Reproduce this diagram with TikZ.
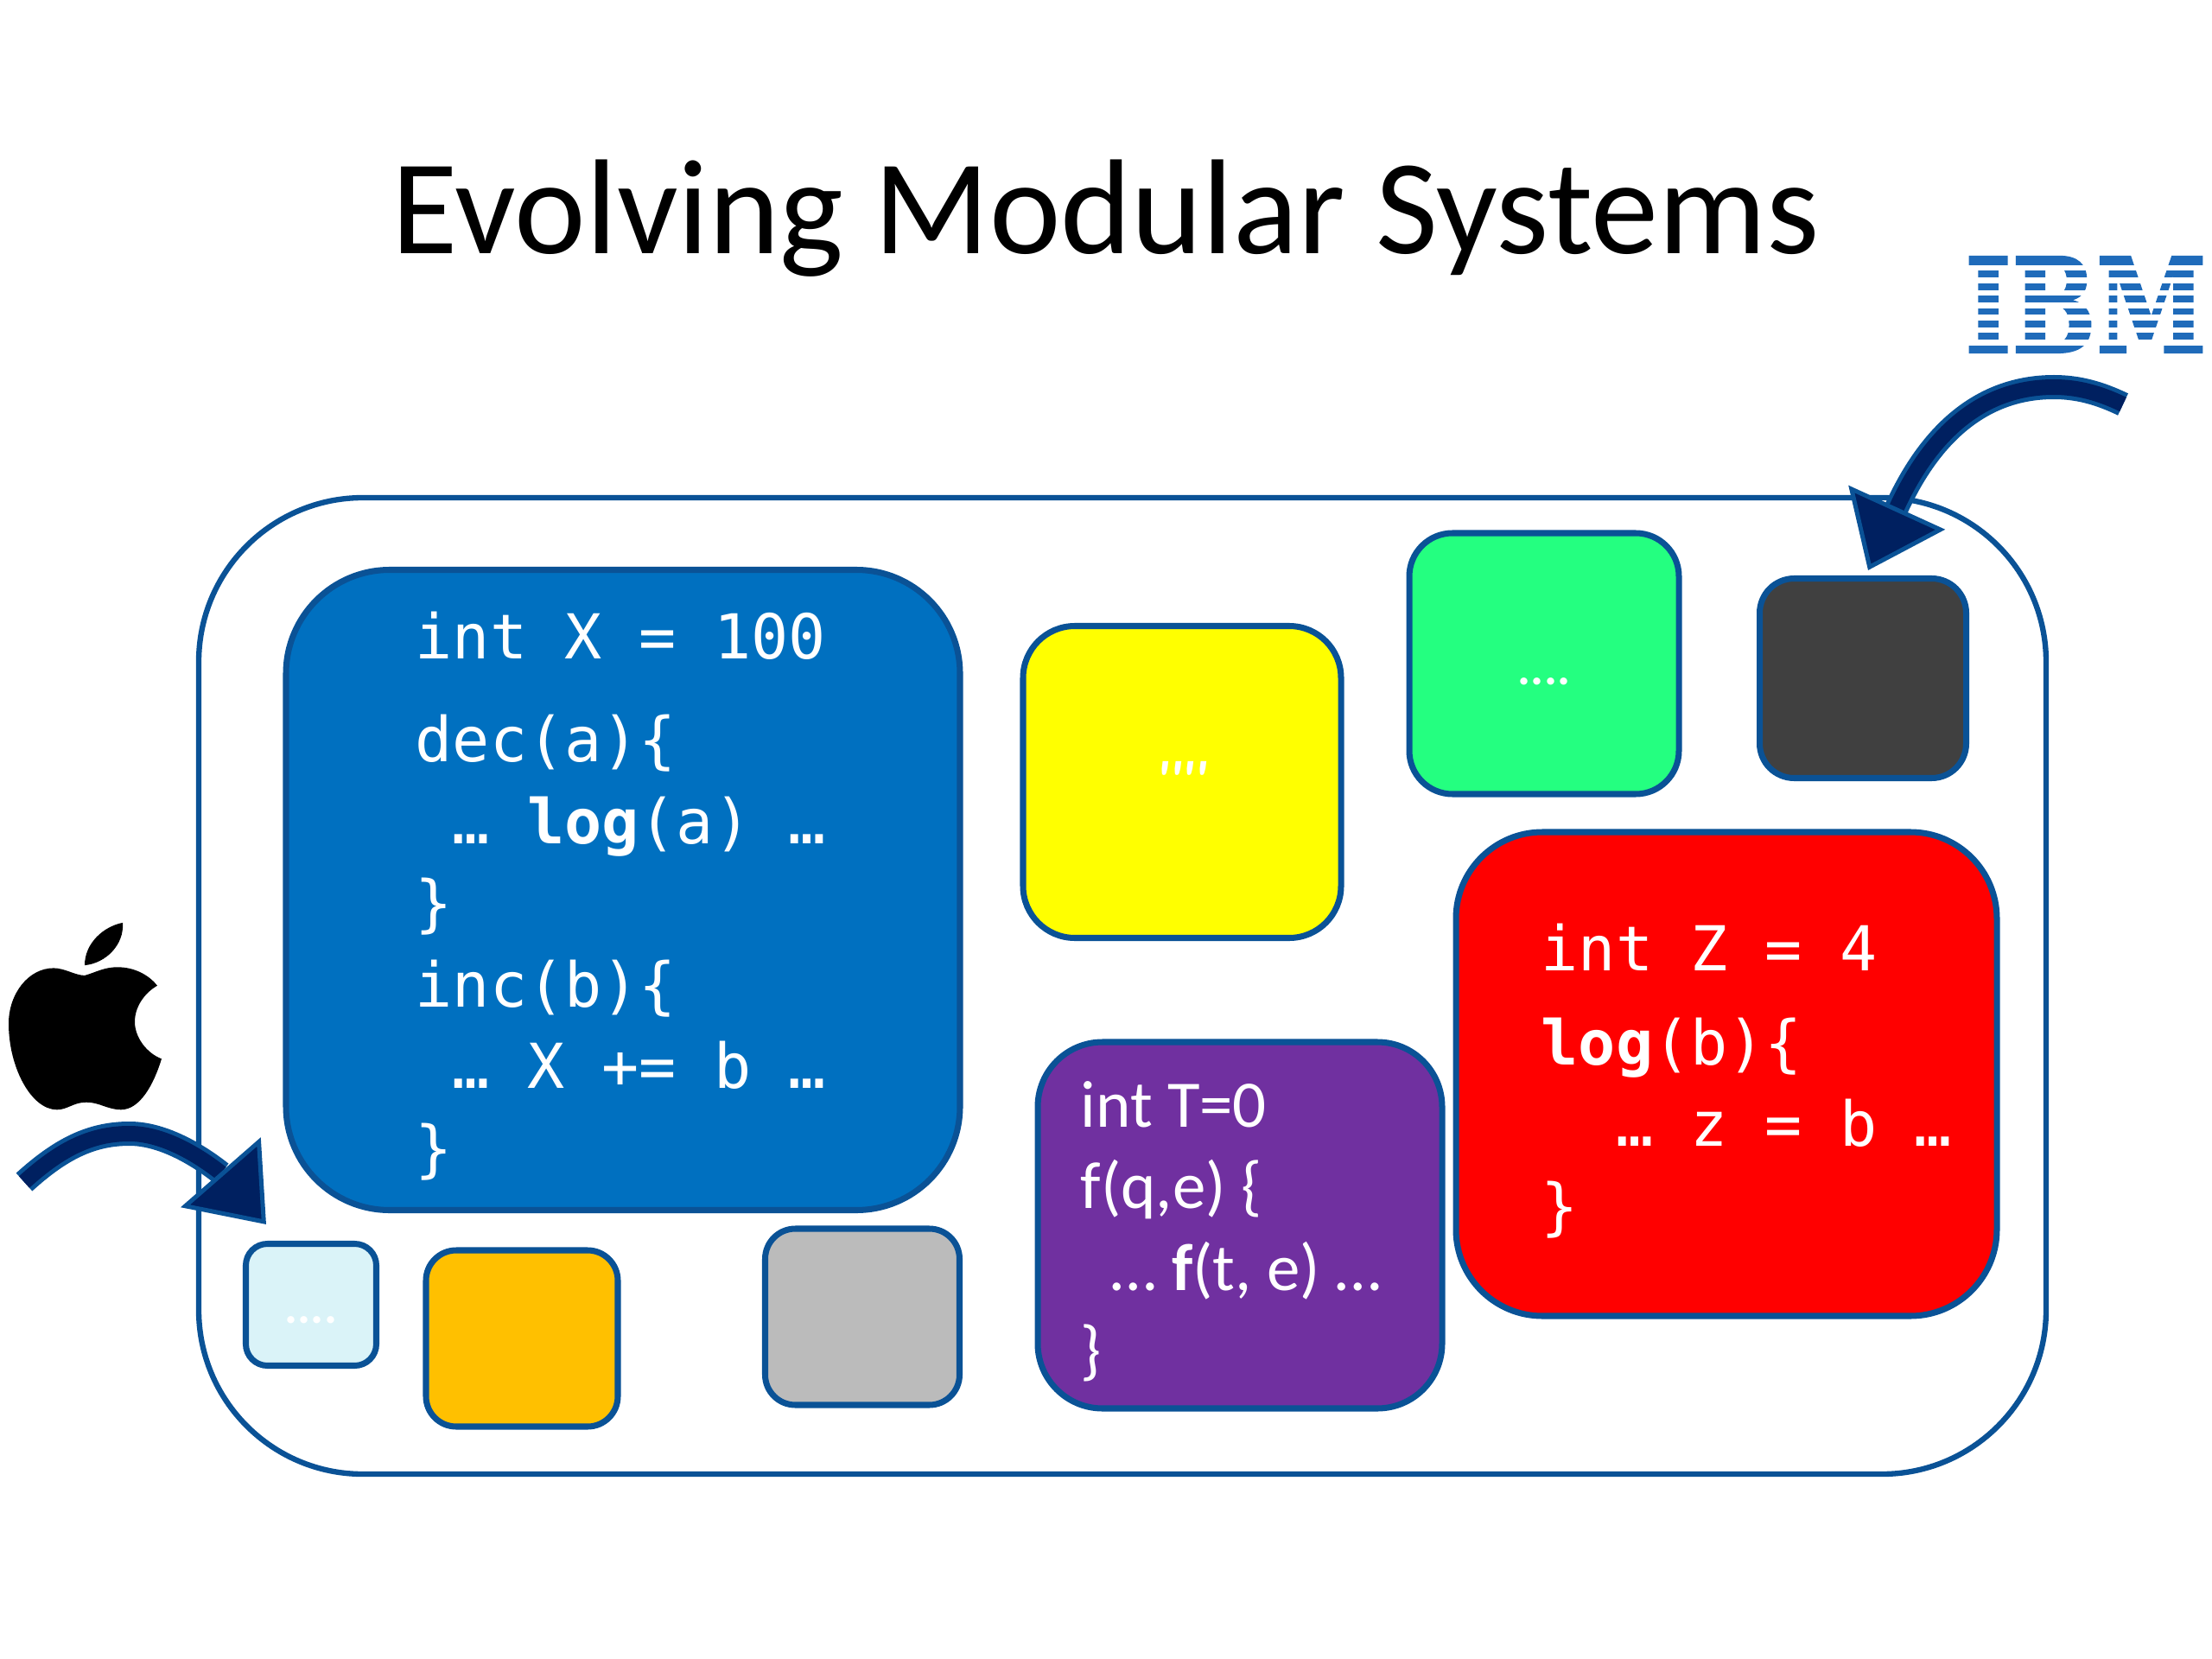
\documentclass[tikz,border=0pt]{standalone}
\usepackage{fontspec}
\setmainfont{Carlito}
\setmonofont{DejaVu Sans Mono}
\newfontfamily\ibmfont{DejaVu Serif}[BoldFeatures={FakeBold=1.5}]
\usetikzlibrary{arrows.meta, positioning}

\definecolor{edgeblue}{HTML}{0A5296}
\definecolor{arrownavy}{HTML}{002060}
\definecolor{logoblue}{HTML}{1F6BBA}
\definecolor{moduleblue}{HTML}{0070C0}
\definecolor{moduleyellow}{HTML}{FFFF00}
\definecolor{modulered}{HTML}{FF0000}
\definecolor{modulegreen}{HTML}{24FF80}
\definecolor{modulegrey}{HTML}{404040}
\definecolor{modulepurple}{HTML}{7030A0}
\definecolor{moduleice}{HTML}{DAF3F8}
\definecolor{moduleamber}{HTML}{FFC000}
\definecolor{modulesilver}{HTML}{BBBBBB}

\begin{document}
\begin{tikzpicture}[
    modbox/.style={rectangle, draw=edgeblue, line width=2pt, inner sep=0pt},
    dots/.style={text=white, font=\bfseries\fontsize{16}{16}\selectfont},
    monocode/.style={text=white, inner sep=0pt, align=left, anchor=west, font=\ttfamily\fontsize{20.4}{26.9}\selectfont},
    sanscode/.style={text=white, inner sep=0pt, align=left, anchor=west, font=\fontsize{21.9}{26.9}\selectfont},
    curved/.style={draw=edgeblue, line width=0.05cm, double=arrownavy, double distance=0.18cm,
        -{Triangle[length=0.8cm, width=1.22cm, fill=arrownavy, line width=0.05cm]}}
]
    \useasboundingbox (0,0) rectangle (25.6,-19.2);

    % Title
    \node[font=\fontsize{44.5}{50}\selectfont] (title) at (12.8,-2.53) {Evolving Modular Systems};

    % Outer system
    \node[modbox, line width=1.8pt, rounded corners=1.9cm, minimum width=21.38cm, minimum height=11.3cm] (system) at (12.99,-11.41) {};

    % Modules
    \node[modbox, fill=moduleblue, rounded corners=1.2cm, minimum width=7.8cm, minimum height=7.41cm] (blue) at (7.21,-10.30) {};
    \node[modbox, fill=moduleyellow, rounded corners=0.6cm, minimum width=3.68cm, minimum height=3.61cm] (yellowbox) at (13.68,-9.05) {};
    \node[modbox, fill=modulegreen, rounded corners=0.5cm, minimum width=3.12cm, minimum height=3.02cm] (green) at (17.87,-7.68) {};
    \node[modbox, fill=modulegrey, rounded corners=0.4cm, minimum width=2.39cm, minimum height=2.31cm] (dark) at (21.56,-7.85) {};
    \node[modbox, fill=modulered, rounded corners=1cm, minimum width=6.26cm, minimum height=5.6cm] (redbox) at (19.98,-12.43) {};
    \node[modbox, fill=modulepurple, rounded corners=0.75cm, minimum width=4.68cm, minimum height=4.24cm] (purple) at (14.35,-14.18) {};
    \node[modbox, fill=moduleice, rounded corners=0.25cm, minimum width=1.51cm, minimum height=1.41cm] (ice) at (3.6,-15.1) {};
    \node[modbox, fill=moduleamber, rounded corners=0.35cm, minimum width=2.22cm, minimum height=2.04cm] (amber) at (6.04,-15.49) {};
    \node[modbox, fill=modulesilver, rounded corners=0.35cm, minimum width=2.25cm, minimum height=2.04cm] (silver) at (9.98,-15.24) {};

    % Module texts
    \node[dots] (icedots) at (3.6,-15.2) {\strut ....};
    \node[dots] (greendots) at (17.87,-7.81) {\strut ....};
    \node[dots, font=\bfseries\itshape\fontsize{18}{18}\selectfont] (yellowdots) at (13.68,-9.03) {\textquotesingle\textquotesingle\textquotesingle\textquotesingle};

    \node[monocode] (bluecode) at (4.80,-10.37) {int X = 100\\[7pt]
        dec(a)\{\\
        \ … \textbf{log}(a) …\\
        \}\\
        inc(b)\{\\
        \ … X += b …\\
        \}};
    \node[monocode] (redcode) at (17.83,-12.51) {int Z = 4\\[4pt]
        \textbf{log}(b)\{\\
        \ \ … z = b …\\
        \}};
    \node[sanscode] (purplecode) at (12.5,-14.25) {int T=0\\
        f(q,e) \{\\
        \ \ … \textbf{f}(t, e) …\\
        \}};

    % IBM logo
    \node[text=logoblue, inner sep=0pt, font=\ibmfont\bfseries\fontsize{43.3}{44}\selectfont] (ibm) at (24.14,-3.525) {\scalebox{0.76}[1]{IBM}};
    \foreach \row in {0,...,6}
        \fill[white] (22.6,{-3.1-0.1443*\row+0.0325}) rectangle (25.6,{-3.1-0.1443*\row-0.0325});

    % Apple logo
    \fill[black] (0.98,-11.289) .. controls (1.10,-11.257) and (1.20,-11.193) .. (1.36,-11.193)
        .. controls (1.55,-11.193) and (1.72,-11.279) .. (1.82,-11.407)
        .. controls (1.66,-11.5) and (1.56,-11.664) .. (1.56,-11.825)
        .. controls (1.56,-12.007) and (1.70,-12.189) .. (1.87,-12.254)
        .. controls (1.78,-12.55) and (1.62,-12.843) .. (1.40,-12.843)
        .. controls (1.25,-12.843) and (1.15,-12.757) .. (1.00,-12.757)
        .. controls (0.85,-12.757) and (0.78,-12.843) .. (0.66,-12.843)
        .. controls (0.36,-12.843) and (0.10,-12.35) .. (0.10,-11.846)
        .. controls (0.10,-11.5) and (0.33,-11.204) .. (0.62,-11.204)
        .. controls (0.75,-11.204) and (0.87,-11.289) .. (0.98,-11.289) -- cycle;
    \fill[black] (1.42,-10.679) .. controls (1.20,-10.721) and (0.98,-10.914) .. (0.98,-11.171)
        .. controls (1.22,-11.15) and (1.44,-10.936) .. (1.42,-10.679) -- cycle;

    % Arrows
    \coordinate (ibmtail) at (24.57,-4.68);
    \coordinate (ibmpeak) at (23.77,-4.48);
    \coordinate (appletail) at (0.28,-13.68);
    \coordinate (applepeak) at (1.50,-13.12);
    \coordinate (icetop) at (3.08,-14.17);
    \draw[curved] (ibmtail) .. controls (24.3,-4.55) and (24.05,-4.48) .. (ibmpeak)
        .. controls (22.95,-4.48) and (22.35,-5.0) .. ([xshift=0.06cm, yshift=0.06cm]dark.north);
    \draw[curved] (appletail) .. controls (0.7,-13.30) and (1.05,-13.12) .. (applepeak)
        .. controls (2.05,-13.12) and (2.6,-13.62) .. (icetop);
\end{tikzpicture}
\end{document}
